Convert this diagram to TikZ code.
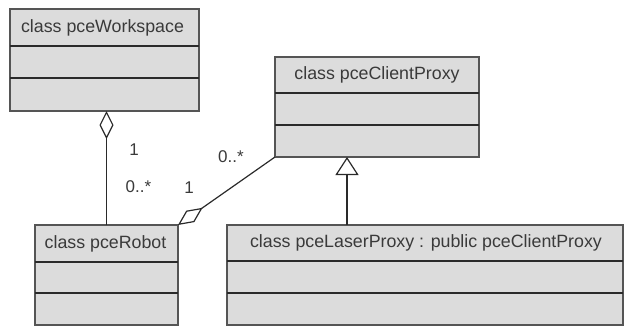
\documentclass[tikz,border=0pt]{standalone}
\usepackage{fontspec}
\setmainfont{Liberation Sans}
\usetikzlibrary{arrows.meta}
\definecolor{boxfill}{HTML}{DCDCDC}
\definecolor{boxline}{HTML}{555555}
\definecolor{divline}{HTML}{2A2A2A}
\definecolor{txt}{HTML}{3A3A3A}
\begin{document}
\begin{tikzpicture}[x=1pt,y=-1pt,
  cls/.style={draw=boxline, fill=boxfill, line width=1.3pt, inner sep=0pt, outer sep=0pt},
  div/.style={draw=divline, line width=2pt},
  ttl/.style={text=txt, font=\fontsize{17.8}{20}\selectfont, inner sep=0pt, anchor=center},
  mult/.style={text=txt, font=\fontsize{17}{19}\selectfont, inner sep=0pt},
  conn/.style={draw=divline, line width=1.2pt}
]
\useasboundingbox (0,0) rectangle (625,327);
% pceWorkspace
\node[cls, minimum width=189pt, minimum height=102pt] (ws) at (104.5,60) {};
\node[ttl] (wst) at (102.5,27.5) {class pceWorkspace};
\draw[div] (ws.west |- 0,46) -- (ws.east |- 0,46);
\draw[div] (ws.west |- 0,78) -- (ws.east |- 0,78);
% pceClientProxy
\node[cls, minimum width=204pt, minimum height=100pt] (cp) at (377,107) {};
\node[ttl] (cpt) at (377,75) {class pceClientProxy};
\draw[div] (cp.west |- 0,93) -- (cp.east |- 0,93);
\draw[div] (cp.west |- 0,125) -- (cp.east |- 0,125);
% pceRobot
\node[cls, minimum width=143pt, minimum height=100pt] (rb) at (106.5,275) {};
\node[ttl] (rbt) at (105.5,243.5) {class pceRobot};
\draw[div] (rb.west |- 0,262) -- (rb.east |- 0,262);
\draw[div] (rb.west |- 0,293) -- (rb.east |- 0,293);
% pceLaserProxy
\node[cls, minimum width=396pt, minimum height=100pt] (lp) at (425,275) {};
\node[ttl] (lpt) at (426,243) {class pceLaserProxy : public pceClientProxy};
\draw[div] (lp.west |- 0,261) -- (lp.east |- 0,261);
\draw[div] (lp.west |- 0,293) -- (lp.east |- 0,293);
% aggregation workspace - robot
\draw[conn, -{Diamond[open, length=28pt, width=14pt, line width=1.2pt]}] (rb.north) -- (rb.north |- ws.south);
% aggregation robot - clientproxy
\draw[conn, {Diamond[open, length=30pt, width=14pt, line width=1.2pt]}-] (rb.north east) -- (cp.south west);
% inheritance
\coordinate (inh) at (347,157);
\draw[conn, -{Triangle[open, length=18pt, width=23pt, line width=1.2pt]}] (inh |- lp.north) -- (inh);
% multiplicities
\node[mult] (m1) at (134,150) {1};
\node[mult] (m2) at (138.5,187) {0..*};
\node[mult] (m3) at (231,157) {0..*};
\node[mult] (m4) at (189,188) {1};
\end{tikzpicture}
\end{document}
